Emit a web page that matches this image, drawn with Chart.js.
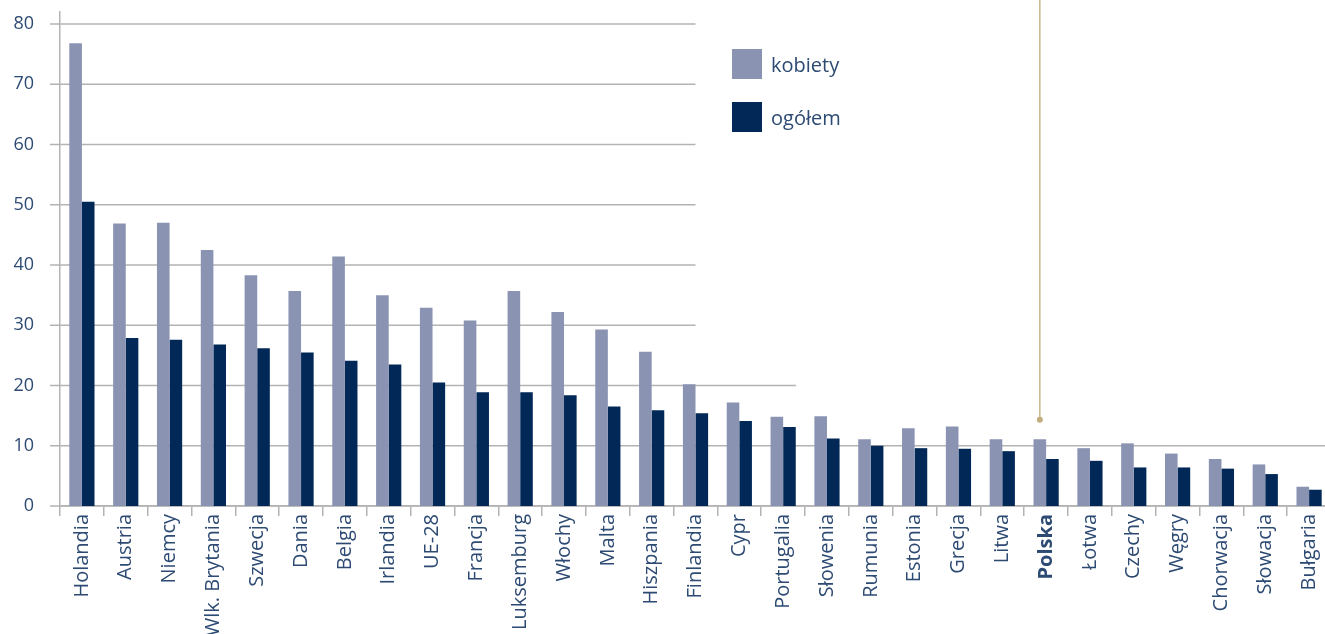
<!DOCTYPE html>
<html>
<head>
<meta charset="utf-8">
<script src="https://cdn.jsdelivr.net/npm/chart.js@4.4.1/dist/chart.umd.min.js"></script>
<style>
  html, body { margin:0; padding:0; background:#fff; overflow:hidden; }
  #wrap { width:1325px; height:634px; overflow:hidden; position:relative; }
  canvas { display:block; }
</style>
</head>
<body>
<div id="wrap"><canvas id="c" width="1331" height="634"></canvas></div>
<script>
const categories = ["Holandia","Austria","Niemcy","Wlk. Brytania","Szwecja","Dania","Belgia","Irlandia","UE-28","Francja","Luksemburg","Włochy","Malta","Hiszpania","Finlandia","Cypr","Portugalia","Słowenia","Rumunia","Estonia","Grecja","Litwa","Polska","Łotwa","Czechy","Węgry","Chorwacja","Słowacja","Bułgaria"];
const kobiety = [76.8,46.9,47.0,42.5,38.3,35.7,41.4,35.0,32.9,30.8,35.7,32.2,29.3,25.6,20.2,17.2,14.8,14.9,11.1,12.9,13.2,11.1,11.1,9.6,10.4,8.7,7.8,6.9,3.2];
const ogolem = [50.5,27.9,27.6,26.8,26.2,25.5,24.1,23.5,20.5,18.9,18.9,18.4,16.5,15.9,15.4,14.1,13.1,11.2,10.0,9.6,9.5,9.1,7.8,7.5,6.4,6.4,6.2,5.3,2.7];
const seriesNames = ["kobiety","ogółem"];
const yTickValues = [0,10,20,30,40,50,60,70,80];
const highlightCategory = "Polska";
const markerValue = 14.3;

const COL_K = '#8a93b2';
const COL_O = '#022857';
const TXT = '#2d4a73';
const GRID = '#b3b3b3';
const FONT = "'Open Sans', 'Noto Sans', sans-serif";

const partialGrid = {
  id: 'partialGrid',
  beforeDatasetsDraw(chart) {
    const {ctx, chartArea: a, scales: {y}} = chart;
    ctx.save();
    ctx.strokeStyle = GRID;
    ctx.lineWidth = 1.5;
    yTickValues.forEach(v => {
      const py = y.getPixelForValue(v);
      const frac = v >= 30 ? 0.5 : (v >= 20 ? 0.579 : 1);
      ctx.beginPath();
      ctx.moveTo(a.left - 10, py);
      ctx.lineTo(a.left + frac * (a.right - a.left), py);
      ctx.stroke();
    });
    ctx.restore();
  },
  afterDatasetsDraw(chart) {
    const {ctx, scales: {y}} = chart;
    const idx = categories.indexOf(highlightCategory);
    const bar = chart.getDatasetMeta(0).data[idx];
    const x = bar.x;
    const py = y.getPixelForValue(markerValue);
    ctx.save();
    ctx.strokeStyle = '#c8b78b';
    ctx.fillStyle = '#c2ad7c';
    ctx.lineWidth = 1.5;
    ctx.beginPath();
    ctx.moveTo(x, 0);
    ctx.lineTo(x, py);
    ctx.stroke();
    ctx.beginPath();
    ctx.arc(x, py, 3, 0, Math.PI * 2);
    ctx.fill();
    // legend
    const items = chart.data.datasets;
    const lx = 732, ly0 = 49, sq = 30, gap = 53;
    ctx.font = "20px " + FONT;
    ctx.textBaseline = 'middle';
    ctx.textAlign = 'left';
    items.forEach((ds, i) => {
      const yy = ly0 + i * gap;
      ctx.fillStyle = ds.backgroundColor;
      ctx.fillRect(lx, yy, sq, sq);
      ctx.fillStyle = TXT;
      ctx.fillText(ds.label, lx + sq + 9, yy + sq / 2 + 2);
    });
    ctx.restore();
  }
};

new Chart(document.getElementById('c'), {
  type: 'bar',
  data: {
    labels: categories,
    datasets: [
      { label: seriesNames[0], data: kobiety, backgroundColor: COL_K, borderWidth: 0 },
      { label: seriesNames[1], data: ogolem, backgroundColor: COL_O, borderWidth: 0 }
    ]
  },
  options: {
    responsive: false,
    animation: false,
    events: [],
    layout: { padding: { top: 12, left: 0, right: 0, bottom: 0 } },
    datasets: { bar: { categoryPercentage: 0.575, barPercentage: 1.0 } },
    plugins: { legend: { display: false }, tooltip: { enabled: false } },
    scales: {
      x: {
        offset: true,
        grid: { display: true, drawOnChartArea: false, drawTicks: true, tickLength: 10, color: GRID, lineWidth: 1.5, offset: true },
        border: { display: true, color: GRID, width: 1.5 },
        ticks: {
          autoSkip: false, minRotation: 90, maxRotation: 90, padding: -2,
          color: TXT,
          font: (c) => ({ family: FONT, size: 20, weight: categories[c.index] === highlightCategory ? 'bold' : 'normal' })
        },
        afterFit(s) { s.height = 128; s.paddingLeft = 0; s.paddingRight = 0; }
      },
      y: {
        min: 0, max: 82,
        grid: { display: false },
        border: { display: true, color: GRID, width: 1.5 },
        afterBuildTicks(s) { s.ticks = yTickValues.map(v => ({ value: v })); },
        ticks: { color: TXT, padding: 18, font: { family: FONT, size: 18 } },
        afterFit(s) { s.width = 60; s.paddingTop = 0; s.paddingBottom = 0; }
      }
    }
  },
  plugins: [partialGrid]
});
</script>
</body>
</html>
